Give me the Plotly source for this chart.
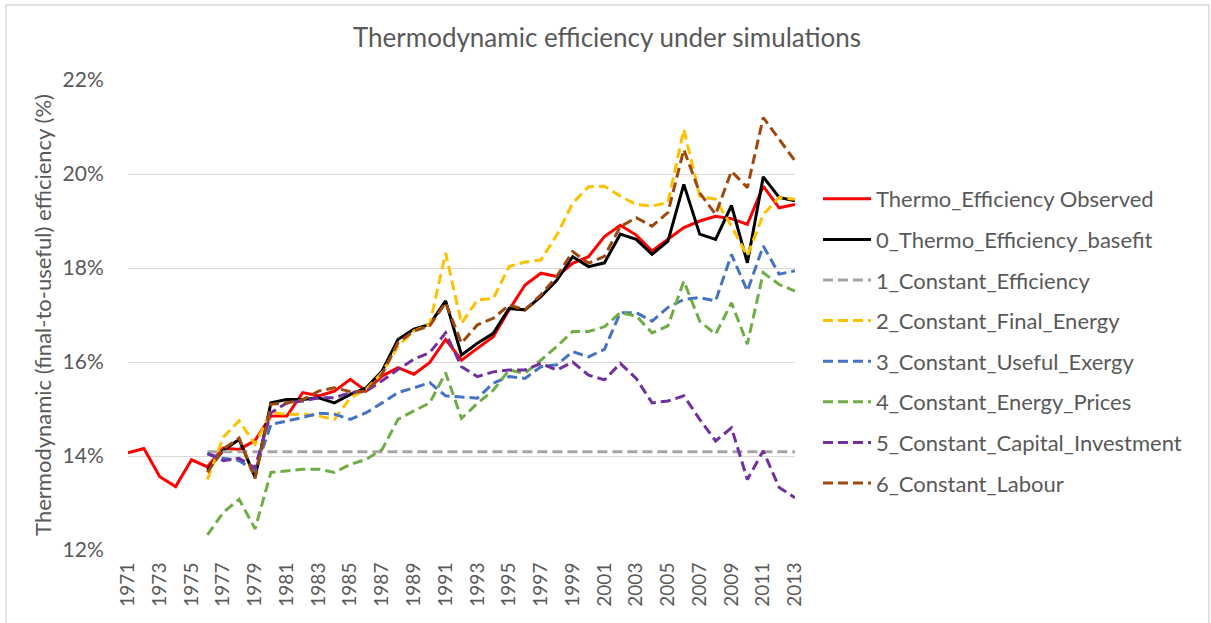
import plotly.graph_objects as go

years = [str(y) for y in range(1971, 2014)]

observed = [14.07, 14.16, 13.56, 13.35, 13.92, 13.77, 14.17, 14.14, 14.33, 14.85,
            14.85, 15.35, 15.28, 15.38, 15.63, 15.38, 15.70, 15.88, 15.74, 15.99,
            16.48, 16.04, 16.29, 16.54, 17.11, 17.64, 17.89, 17.82, 18.10, 18.24,
            18.67, 18.91, 18.70, 18.36, 18.61, 18.86, 19.00, 19.10, 19.05, 18.93,
            19.74, 19.28, 19.35]

# series below start in 1976
basefit = [13.70, 14.12, 14.35, 13.55, 15.13, 15.20, 15.20, 15.24, 15.13, 15.31,
           15.45, 15.81, 16.48, 16.70, 16.80, 17.30, 16.15, 16.40, 16.61, 17.14,
           17.11, 17.39, 17.74, 18.24, 18.03, 18.11, 18.72, 18.61, 18.29, 18.57,
           19.78, 18.72, 18.61, 19.33, 18.11, 19.94, 19.50, 19.43]

const_eff = [14.09] * 38

const_final = [13.50, 14.40, 14.75, 14.25, 14.92, 14.89, 14.89, 14.85, 14.78, 15.24,
               15.42, 15.77, 16.34, 16.66, 16.80, 18.32, 16.82, 17.32, 17.35, 18.03,
               18.13, 18.17, 18.70, 19.38, 19.73, 19.74, 19.53, 19.35, 19.32, 19.39,
               20.95, 19.53, 19.46, 18.89, 18.26, 19.14, 19.50, 19.46]

const_useful = [14.05, 13.95, 13.90, 13.68, 14.67, 14.74, 14.82, 14.91, 14.89, 14.78,
                14.92, 15.13, 15.35, 15.45, 15.56, 15.28, 15.26, 15.23, 15.55, 15.69,
                15.65, 15.90, 15.94, 16.22, 16.11, 16.27, 17.05, 17.05, 16.87, 17.16,
                17.33, 17.37, 17.30, 18.29, 17.51, 18.47, 17.87, 17.94]

const_prices = [12.32, 12.80, 13.08, 12.45, 13.65, 13.68, 13.72, 13.72, 13.65, 13.82,
                13.93, 14.14, 14.78, 14.96, 15.13, 15.77, 14.80, 15.12, 15.40, 15.83,
                15.76, 16.04, 16.33, 16.65, 16.65, 16.75, 17.05, 16.98, 16.62, 16.77,
                17.72, 16.87, 16.59, 17.26, 16.38, 17.90, 17.65, 17.51]

const_capital = [14.05, 13.90, 13.95, 13.75, 14.92, 15.13, 15.17, 15.24, 15.24, 15.35,
                 15.38, 15.60, 15.84, 16.06, 16.20, 16.62, 15.90, 15.69, 15.79, 15.83,
                 15.83, 15.97, 15.83, 16.00, 15.72, 15.62, 15.97, 15.65, 15.13, 15.17,
                 15.28, 14.78, 14.32, 14.60, 13.50, 14.11, 13.33, 13.11]

const_labour = [13.65, 14.15, 14.38, 13.52, 15.10, 15.13, 15.20, 15.38, 15.45, 15.37,
                15.38, 15.74, 16.41, 16.66, 16.77, 17.26, 16.40, 16.79, 16.93, 17.21,
                17.11, 17.43, 17.82, 18.35, 18.10, 18.25, 18.88, 19.07, 18.89, 19.18,
                20.52, 19.60, 19.14, 20.06, 19.71, 21.20, 20.74, 20.28]

names = ["Thermo_Efficiency Observed", "0_Thermo_Efficiency_basefit",
         "1_Constant_Efficiency", "2_Constant_Final_Energy",
         "3_Constant_Useful_Exergy", "4_Constant_Energy_Prices",
         "5_Constant_Capital_Investment", "6_Constant_Labour"]
colors = ["#FF0000", "#000000", "#A5A5A5", "#FFC000", "#4472C4", "#70AD47",
          "#7030A0", "#9E480E"]

series = [observed, basefit, const_eff, const_final, const_useful,
          const_prices, const_capital, const_labour]

fig = go.Figure()
for i, (name, vals, col) in enumerate(zip(names, series, colors)):
    xs = years if len(vals) == len(years) else years[len(years) - len(vals):]
    dash = "solid" if i < 2 else "10px,5px"
    fig.add_trace(go.Scatter(
        x=xs, y=[v / 100 for v in vals], mode="lines", name=name,
        legendgroup=name,
        line=dict(color=col, width=3, dash=dash),
    ))

font_family = "Lato, 'Open Sans', sans-serif"
txt = "#595959"

L, R, T, B = 128, 795, 80, 550
W, H = 1211, 623

fig.update_layout(
    width=W, height=H,
    margin=dict(l=L, r=W - R, t=T, b=H - B),
    paper_bgcolor="white", plot_bgcolor="white",
    font=dict(family=font_family, color=txt, size=20),
    title=dict(text="Thermodynamic efficiency under simulations",
               x=607 / W, xanchor="center", xref="container",
               y=1 - 38 / H, yanchor="middle", yref="container",
               font=dict(size=26, color=txt)),
    legend=dict(x=(818 - L) / (R - L), xanchor="left", y=(B - 178) / (B - T),
                yanchor="top", font=dict(size=22, color=txt),
                itemwidth=48,
                tracegroupgap=9, bgcolor="rgba(0,0,0,0)"),
    showlegend=True,
)

fig.update_xaxes(
    type="category", categoryorder="array", categoryarray=years,
    tickmode="array", tickvals=years[::2], ticktext=years[::2],
    tickangle=-90, showgrid=False, showline=False, zeroline=False,
    ticks="outside", ticklen=4, tickcolor="rgba(0,0,0,0)",
    tickfont=dict(size=19, color=txt),
)
fig.update_yaxes(
    range=[0.12, 0.22], tickmode="array",
    tickvals=[0.12, 0.14, 0.16, 0.18, 0.20, 0.22],
    tickformat=".0%", showgrid=True, gridcolor="#D9D9D9", gridwidth=1,
    zeroline=False, showline=False,
    ticks="outside", ticklen=19, tickcolor="rgba(0,0,0,0)",
    tickfont=dict(size=21, color=txt),
    title=dict(text="Thermodynamic (final-to-useful) efficiency (%)",
               font=dict(size=22, color=txt), standoff=4),
)

# outer chart border
fig.add_shape(type="rect", xref="paper", yref="paper",
              x0=(6 - L) / (R - L), x1=(1209 - L) / (R - L),
              y0=(B - 640) / (B - T), y1=(B - 5) / (B - T),
              line=dict(color="#D9D9D9", width=1.5), fillcolor="rgba(0,0,0,0)",
              layer="below")

fig.write_html("out.html",
               config={"displayModeBar": False},
               post_script="document.body.style.margin='0';")
